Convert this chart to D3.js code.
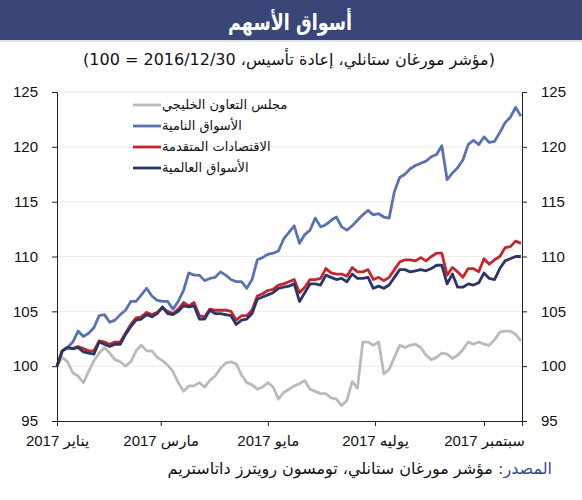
<!DOCTYPE html>
<html>
<head>
<meta charset="utf-8">
<script src="https://cdn.jsdelivr.net/npm/d3@7"></script>
<style>
  body { margin: 0; background: #fff; }
  svg { display: block; font-family: "Liberation Sans", "DejaVu Sans", sans-serif; }
</style>
</head>
<body>
<div id="chart"></div>
<script>
const dates = [
  "2017-01-01", "2017-01-04", "2017-01-07", "2017-01-10", "2017-01-13", "2017-01-16", "2017-01-19", "2017-01-22", "2017-01-25", "2017-01-28", "2017-01-31",
  "2017-02-03", "2017-02-06", "2017-02-09", "2017-02-12", "2017-02-15", "2017-02-18", "2017-02-21", "2017-02-24", "2017-02-27",
  "2017-03-02", "2017-03-05", "2017-03-08", "2017-03-11", "2017-03-14", "2017-03-17", "2017-03-20", "2017-03-23", "2017-03-26", "2017-03-29",
  "2017-04-01", "2017-04-04", "2017-04-07", "2017-04-10", "2017-04-13", "2017-04-16", "2017-04-19", "2017-04-22", "2017-04-25", "2017-04-28",
  "2017-05-01", "2017-05-04", "2017-05-07", "2017-05-10", "2017-05-13", "2017-05-16", "2017-05-19", "2017-05-22", "2017-05-25", "2017-05-28", "2017-05-31",
  "2017-06-03", "2017-06-06", "2017-06-09", "2017-06-12", "2017-06-15", "2017-06-18", "2017-06-21", "2017-06-24", "2017-06-27", "2017-06-30",
  "2017-07-03", "2017-07-06", "2017-07-09", "2017-07-12", "2017-07-15", "2017-07-18", "2017-07-21", "2017-07-24", "2017-07-27", "2017-07-30",
  "2017-08-02", "2017-08-05", "2017-08-08", "2017-08-11", "2017-08-14", "2017-08-17", "2017-08-20", "2017-08-23", "2017-08-26", "2017-08-29",
  "2017-09-01", "2017-09-04", "2017-09-07", "2017-09-10", "2017-09-13", "2017-09-16", "2017-09-19", "2017-09-22"
];

// GCC
const gcc = [
  100.0, 100.8, 100.4, 99.4, 99.1, 98.5, 99.5, 100.5, 101.2, 101.7,
  101.2, 100.6, 100.4, 100.0, 100.4, 101.4, 101.9, 101.4, 101.4, 100.8,
  100.5, 100.1, 99.5, 98.5, 97.7, 98.2, 98.2, 98.5, 98.1, 98.7,
  99.1, 99.8, 100.3, 100.4, 100.2, 99.2, 98.5, 98.3, 97.9, 98.1,
  98.5, 98.1, 97.0, 97.6, 97.9, 98.2, 98.4, 98.7, 97.9, 97.7,
  97.5, 97.5, 97.1, 97.0, 96.4, 96.9, 98.6, 98.0, 102.2, 102.2,
  101.9, 102.2, 99.3, 99.7, 100.8, 101.9, 101.7, 101.9, 102.0, 101.7,
  101.0, 100.6, 100.8, 101.2, 101.1, 100.7, 101.0, 101.5, 102.2, 102.0,
  102.2, 102.0, 101.9, 102.4, 103.1, 103.2, 103.2, 102.9, 102.3
];

// emerging markets
const emerging = [
  100.0, 101.4, 101.7, 102.2, 103.2, 102.7, 103.0, 103.5, 104.6, 104.7,
  104.0, 104.2, 104.7, 105.1, 105.9, 105.9, 106.5, 107.1, 106.4, 106.0,
  105.9, 105.9, 105.2, 105.9, 106.9, 108.5, 108.3, 108.3, 107.8, 108.0,
  108.1, 108.6, 108.3, 107.9, 107.7, 107.7, 107.1, 107.9, 109.7, 109.9,
  110.2, 110.3, 110.5, 111.6, 112.2, 112.8, 111.2, 112.0, 112.4, 113.5,
  112.7, 112.9, 113.3, 113.6, 112.7, 112.4, 112.8, 113.3, 113.8, 114.2,
  113.8, 113.9, 113.6, 113.5, 115.9, 117.2, 117.5, 118.0, 118.3, 118.5,
  118.7, 119.1, 119.3, 120.1, 117.0, 117.6, 118.1, 118.8, 120.2, 120.6,
  120.2, 120.9, 120.4, 120.5, 121.3, 122.2, 122.7, 123.6, 122.8
];

// advanced economies
const advanced = [
  100.0, 101.4, 101.7, 101.6, 101.8, 101.6, 101.4, 101.4, 102.3, 102.2,
  102.0, 102.2, 102.2, 103.0, 103.8, 104.4, 104.5, 104.9, 104.7, 104.9,
  105.3, 105.0, 104.8, 105.2, 105.8, 105.5, 105.8, 104.6, 104.5, 105.2,
  105.1, 105.1, 105.1, 105.0, 104.2, 104.6, 104.6, 105.1, 106.4, 106.6,
  106.9, 107.0, 107.4, 107.5, 107.7, 107.9, 106.7, 107.2, 107.9, 107.9,
  108.0, 108.9, 108.5, 108.4, 108.4, 108.2, 109.0, 108.6, 108.6, 108.8,
  107.9, 108.1, 107.8, 108.1, 108.8, 109.5, 109.7, 109.7, 109.6, 109.9,
  109.6, 110.0, 110.3, 110.3, 108.3, 109.0, 108.6, 108.1, 108.9, 108.9,
  108.6, 109.8, 109.3, 109.7, 110.0, 110.8, 110.9, 111.4, 111.2
];

// world
const world = [
  100.0, 101.4, 101.7, 101.6, 101.7, 101.3, 101.2, 101.1, 102.2, 102.0,
  101.8, 102.0, 102.0, 102.9, 103.6, 104.2, 104.3, 104.7, 104.5, 104.8,
  105.4, 104.8, 104.7, 105.0, 105.5, 105.4, 105.5, 104.3, 104.3, 105.1,
  104.8, 104.8, 104.7, 104.6, 103.8, 104.2, 104.3, 104.8, 106.1, 106.3,
  106.5, 106.7, 107.1, 107.2, 107.3, 107.5, 105.9, 106.7, 107.5, 107.5,
  107.4, 108.3, 108.1, 107.9, 108.0, 107.7, 108.4, 108.0, 108.0, 108.1,
  107.1, 107.3, 107.1, 107.4, 108.1, 108.8, 108.8, 108.6, 108.7, 108.8,
  108.7, 108.9, 109.2, 109.2, 107.5, 108.4, 107.2, 107.2, 107.5, 107.4,
  107.6, 108.5, 108.0, 107.9, 108.9, 109.6, 109.8, 110.0, 110.0
];

const seriesNames = ["مجلس التعاون الخليجي", "الأسواق النامية", "الاقتصادات المتقدمة", "الأسواق العالمية"];
const seriesColors = ["#bababa", "#5a72ae", "#c4262e", "#2c3568"];
const monthTicks = ["2017-01-01", "2017-03-01", "2017-05-01", "2017-07-01", "2017-09-01"];
const monthLabels = ["يناير 2017", "مارس 2017", "مايو 2017", "يوليه 2017", "سبتمبر 2017"];
const yTicks = [95, 100, 105, 110, 115, 120, 125];

const titleText = "أسواق الأسهم";
const subtitleText = "(مؤشر مورغان ستانلي، إعادة تأسيس، 2016/12/30 = 100)";
const sourceLabel = "المصدر:";
const sourceText = " مؤشر مورغان ستانلي، تومسون رويترز داتاستريم";

const width = 582;
const height = 500;
const plot = { left: 57, right: 522, top: 92, bottom: 421 };

const parseDate = d3.timeParse("%Y-%m-%d");
const allSeries = [gcc, emerging, advanced, world].map((vals, i) => ({
  name: seriesNames[i],
  color: seriesColors[i],
  points: vals.map((v, j) => ({ date: parseDate(dates[j]), value: v })),
}));

const svg = d3.select("#chart")
  .append("svg")
  .attr("width", width)
  .attr("height", height);

// header bar
svg.append("rect")
  .attr("x", 0).attr("y", 0)
  .attr("width", width).attr("height", 40)
  .attr("fill", "#394677");
svg.append("line")
  .attr("x1", 0).attr("x2", width)
  .attr("y1", 41).attr("y2", 41)
  .attr("stroke", "#c8c8c8");

svg.append("text")
  .attr("x", 290).attr("y", 30)
  .attr("text-anchor", "middle")
  .attr("fill", "#fff")
  .attr("font-size", 22)
  .attr("font-weight", "bold")
  .attr("font-family", "DejaVu Sans")
  .attr("textLength", 124)
  .attr("lengthAdjust", "spacingAndGlyphs")
  .text(titleText);

svg.append("text")
  .attr("x", 289).attr("y", 65)
  .attr("text-anchor", "middle")
  .attr("fill", "#111")
  .attr("font-size", 16)
  .attr("font-family", "DejaVu Sans")
  .text(subtitleText);

const x = d3.scaleTime()
  .domain([parseDate("2017-01-01"), new Date(2017, 8, 22, 15)])
  .range([plot.left, plot.right]);

const y = d3.scaleLinear()
  .domain([95, 125])
  .range([plot.bottom, plot.top]);

// gridlines
svg.append("g")
  .selectAll("line")
  .data(yTicks.slice(1))
  .join("line")
  .attr("x1", plot.left).attr("x2", plot.right)
  .attr("y1", d => y(d)).attr("y2", d => y(d))
  .attr("stroke", "#ececec")
  .attr("stroke-width", 1);

// lines
const line = d3.line()
  .x(d => x(d.date))
  .y(d => y(d.value));

svg.append("g")
  .selectAll("path")
  .data(allSeries)
  .join("path")
  .attr("d", d => line(d.points))
  .attr("fill", "none")
  .attr("stroke", d => d.color)
  .attr("stroke-width", 2.8)
  .attr("stroke-linejoin", "round");

// axes
const leftAxis = d3.axisLeft(y).tickValues(yTicks).tickSize(5).tickPadding(14);
const rightAxis = d3.axisRight(y).tickValues(yTicks).tickSize(5).tickPadding(14);
const bottomAxis = d3.axisBottom(x)
  .tickValues(monthTicks.map(parseDate))
  .tickFormat((d, i) => monthLabels[i])
  .tickSize(5)
  .tickPadding(9);

function styleAxis(g) {
  g.select(".domain").attr("stroke", "#222");
  g.selectAll(".tick line").attr("stroke", "#222");
  g.selectAll(".tick text")
    .attr("fill", "#111")
    .attr("font-size", 15)
    .attr("font-family", "Liberation Sans, DejaVu Sans, sans-serif");
}

svg.append("g")
  .attr("transform", `translate(${plot.left},0)`)
  .call(leftAxis)
  .call(styleAxis);

svg.append("g")
  .attr("transform", `translate(${plot.right},0)`)
  .call(rightAxis)
  .call(styleAxis);

svg.append("g")
  .attr("transform", `translate(0,${plot.bottom})`)
  .call(bottomAxis)
  .call(styleAxis);

// legend
const legend = svg.append("g");
const legendRows = [105, 126, 147, 168];
allSeries.forEach((s, i) => {
  legend.append("line")
    .attr("x1", 133).attr("x2", 161)
    .attr("y1", legendRows[i]).attr("y2", legendRows[i])
    .attr("stroke", s.color)
    .attr("stroke-width", 2.8);
  legend.append("text")
    .attr("x", 162).attr("y", legendRows[i] + 4)
    .attr("font-size", 13)
    .attr("font-family", "DejaVu Sans")
    .attr("fill", "#111")
    .text(s.name);
});

// source note
const src = svg.append("text")
  .attr("x", 552).attr("y", 474)
  .attr("direction", "rtl")
  .attr("text-anchor", "start")
  .attr("font-size", 16)
  .attr("font-family", "DejaVu Sans");
src.append("tspan").attr("fill", "#3a4a8a").text(sourceLabel);
src.append("tspan").attr("fill", "#111").text(sourceText);
</script>
</body>
</html>
